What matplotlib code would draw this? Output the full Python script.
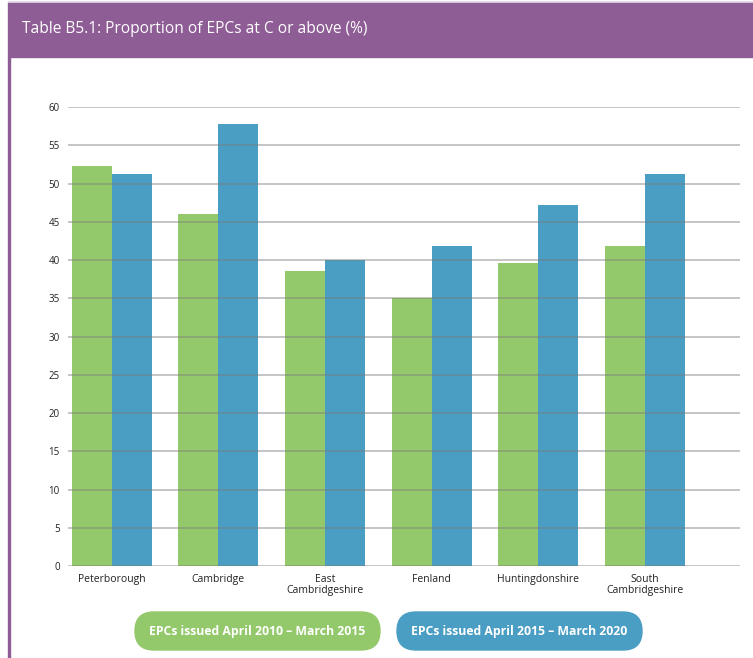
import numpy as np
import matplotlib.pyplot as plt
from matplotlib.patches import Rectangle, FancyBboxPatch

districts = ['Peterborough', 'Cambridge', 'East\nCambridgeshire', 'Fenland',
             'Huntingdonshire', 'South\nCambridgeshire']
epc_2010_2015 = [52.3, 46.0, 38.6, 35.0, 39.6, 41.8]
epc_2015_2020 = [51.2, 57.8, 40.0, 41.8, 47.2, 51.2]
series_names = ['EPCs issued April 2010 \u2013 March 2015',
                'EPCs issued April 2015 \u2013 March 2020']

green = '#94c96b'
blue = '#4a9dc3'
purple = '#8e5d95'

plt.rcParams['font.family'] = ['Open Sans', 'DejaVu Sans']

W, H = 753, 658
fig = plt.figure(figsize=(W / 100, H / 100), dpi=100)

# full-figure layer in pixel units for the header, frame and legend pills
bg = fig.add_axes([0, 0, 1, 1], zorder=-1)
bg.set_xlim(0, W)
bg.set_ylim(H, 0)
bg.axis('off')
bg.add_patch(Rectangle((8, 1), W - 8, 2, color='#e6dcea'))
bg.add_patch(Rectangle((8, 3), W - 8, 54, color=purple))
bg.add_patch(Rectangle((8, 57), 2.5, H - 57, color=purple))
bg.text(22, 29, 'Table B5.1: Proportion of EPCs at C or above (%)',
        color='white', fontsize=11.2, va='center', ha='left')

for x0, col, name in [(135, green, series_names[0]), (397, blue, series_names[1])]:
    bg.add_patch(FancyBboxPatch((x0, 612), 245, 38,
                                boxstyle='round,pad=0,rounding_size=19', color=col))
    bg.text(x0 + 122.5, 632, name, color='white', fontsize=8.8,
            fontweight='bold', ha='center', va='center')

ax = fig.add_axes([68 / W, 1 - 566 / H, (740 - 68) / W, (566 - 107) / H])
x = np.arange(len(districts))
w = 0.375
ax.bar(x - w / 2, epc_2010_2015, w, color=green, zorder=1)
ax.bar(x + w / 2, epc_2015_2020, w, color=blue, zorder=1)

ax.set_ylim(0, 60)
ax.set_xlim(-0.41, 5.89)
ax.set_yticks(range(0, 61, 5))
ax.yaxis.grid(True, color='#7a7a7a', alpha=0.55, linewidth=1.1, zorder=3)
ax.set_axisbelow(False)
for s in ax.spines.values():
    s.set_visible(False)
ax.tick_params(axis='both', length=0, labelsize=7, colors='#222222')
ax.tick_params(axis='y', pad=6)
ax.set_xticks(x)
ax.set_xticklabels(districts, fontsize=7.5, linespacing=0.95)
ax.tick_params(axis='x', pad=6)

fig.savefig('out.png', dpi=100)
